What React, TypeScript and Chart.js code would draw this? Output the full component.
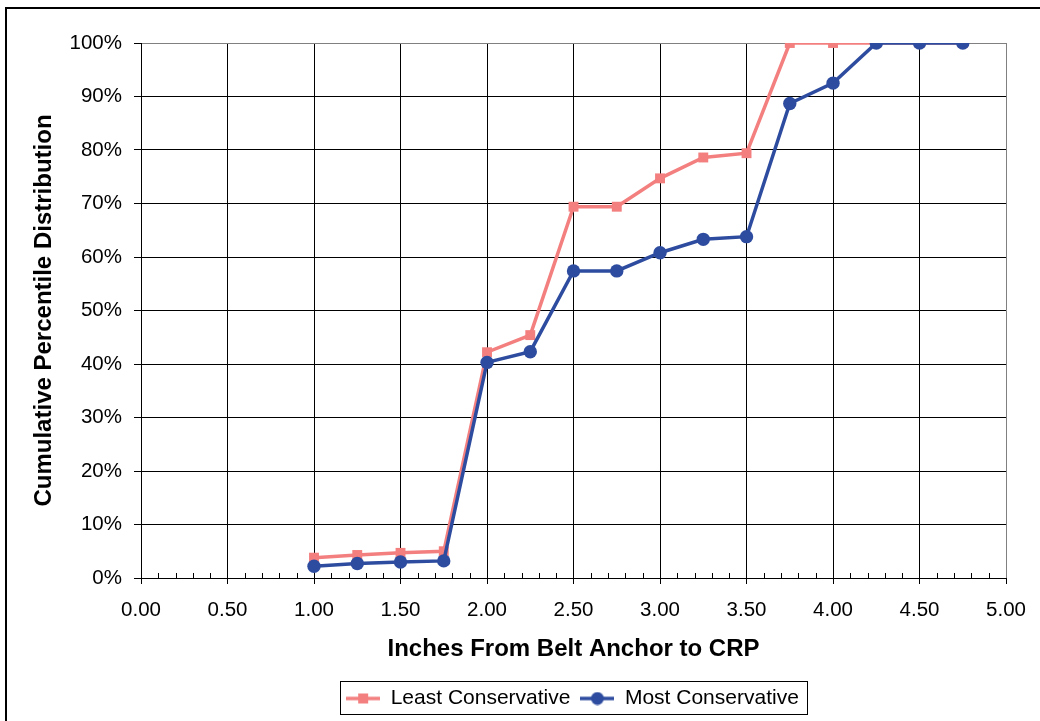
import React, { useEffect, useRef } from "react";
import { Chart, registerables } from "chart.js";

Chart.register(...registerables);

const xValues = [1.0, 1.25, 1.5, 1.75, 2.0, 2.25, 2.5, 2.75, 3.0, 3.25, 3.5, 3.75, 4.0, 4.25, 4.5, 4.75];
const leastConservative = [3.8, 4.3, 4.7, 5.0, 42.2, 45.4, 69.4, 69.4, 74.7, 78.6, 79.4, 100, 100, 100, 100, 100];
const mostConservative = [2.2, 2.7, 3.0, 3.2, 40.3, 42.3, 57.4, 57.4, 60.8, 63.3, 63.8, 88.7, 92.5, 100, 100, 100];
const seriesNames = ["Least Conservative", "Most Conservative"];
const xTitle = "Inches From Belt Anchor to CRP";
const yTitle = "Cumulative Percentile Distribution";

const PINK = "#F37F7F";
const BLUE = "#2E4C9F";
const FONT = "'Liberation Sans', Arial, sans-serif";

function legendIcon(color: string, shape: "rect" | "circle") {
  const c = document.createElement("canvas");
  c.width = 34;
  c.height = 14;
  const ctx = c.getContext("2d")!;
  ctx.strokeStyle = color;
  ctx.lineWidth = 3.5;
  ctx.beginPath();
  ctx.moveTo(0, 7);
  ctx.lineTo(34, 7);
  ctx.stroke();
  ctx.fillStyle = color;
  if (shape === "rect") {
    ctx.fillRect(12, 2, 10, 10);
  } else {
    ctx.beginPath();
    ctx.arc(17, 7, 6.5, 0, Math.PI * 2);
    ctx.fill();
  }
  return c;
}

const LEGEND_SHIFT = 54;

const framePlugin = {
  id: "frame",
  afterLayout(chart: any) {
    const lg = chart.legend;
    if (lg && !lg._shifted) {
      lg.left += LEGEND_SHIFT;
      lg.right += LEGEND_SHIFT;
      if (lg.legendHitBoxes) lg.legendHitBoxes.forEach((h: any) => (h.left += LEGEND_SHIFT));
      lg._shifted = true;
    }
  },
  beforeDraw(chart: any) {
    const ctx = chart.ctx;
    ctx.save();
    ctx.fillStyle = "#fff";
    ctx.fillRect(0, 0, chart.width, chart.height);
    ctx.fillStyle = "#000";
    ctx.fillRect(5, 7, 2, chart.height - 7);
    ctx.fillRect(5, 7, chart.width - 5, 2);
    ctx.restore();
  },
  afterDraw(chart: any) {
    const ctx = chart.ctx;
    const xs = chart.scales.x;
    const bottom = chart.chartArea.bottom;
    ctx.save();
    ctx.strokeStyle = "#000";
    ctx.lineWidth = 1;
    for (let i = 1; i < 50; i++) {
      if (i % 5 === 0) continue;
      const px = Math.round(xs.getPixelForValue(i / 10)) + 0.5;
      ctx.beginPath();
      ctx.moveTo(px, bottom - 5);
      ctx.lineTo(px, bottom);
      ctx.stroke();
    }
    const lg = chart.legend;
    if (lg && lg.legendHitBoxes && lg.legendHitBoxes.length) {
      const hb = lg.legendHitBoxes;
      const left = hb[0].left - 6;
      const right = hb[hb.length - 1].left + hb[hb.length - 1].width + 8;
      const top = hb[0].top - 7;
      const bot = hb[0].top + hb[0].height + 5;
      ctx.strokeStyle = "#000";
      ctx.strokeRect(Math.round(left) + 0.5, Math.round(top) + 0.5, Math.round(right - left), Math.round(bot - top));
    }
    ctx.restore();
  },
};

export default function App() {
  const ref = useRef<HTMLCanvasElement | null>(null);
  useEffect(() => {
    if (!ref.current) return;
    const icons = [legendIcon(PINK, "rect"), legendIcon(BLUE, "circle")];
    const chart = new Chart(ref.current, {
      type: "line",
      data: {
        datasets: [
          {
            label: seriesNames[0],
            data: xValues.map((x, i) => ({ x, y: leastConservative[i] })),
            borderColor: PINK,
            backgroundColor: PINK,
            borderWidth: 3.5,
            pointStyle: "rect",
            pointRadius: 7,
            pointBorderWidth: 0,
            pointBackgroundColor: PINK,
            tension: 0,
            order: 1,
          },
          {
            label: seriesNames[1],
            data: xValues.map((x, i) => ({ x, y: mostConservative[i] })),
            borderColor: BLUE,
            backgroundColor: BLUE,
            borderWidth: 3.5,
            pointStyle: "circle",
            pointRadius: 6.7,
            pointBorderWidth: 0,
            pointBackgroundColor: BLUE,
            tension: 0,
            order: 0,
          },
        ],
      },
      options: {
        animation: false,
        responsive: false,
        maintainAspectRatio: false,
        layout: { padding: { left: 30, right: 33, top: 43, bottom: 2 } },
        plugins: {
          tooltip: { enabled: false },
          legend: {
            position: "bottom",
            labels: {
              usePointStyle: true,
              pointStyleWidth: 34,
              padding: 10,
              color: "#000",
              font: { family: FONT, size: 21 },
              sort: (a: any, b: any) => a.datasetIndex - b.datasetIndex,
              generateLabels: (chart: any) =>
                chart.data.datasets.map((d: any, i: number) => ({
                  text: d.label,
                  datasetIndex: i,
                  pointStyle: icons[i],
                  fillStyle: d.borderColor,
                  strokeStyle: d.borderColor,
                  lineWidth: 0,
                  fontColor: "#000",
                  hidden: false,
                })),
            },
          },
        },
        scales: {
          x: {
            type: "linear",
            min: 0,
            max: 5,
            afterFit: (s: any) => {
              s.height = 100;
            },
            ticks: {
              stepSize: 0.5,
              autoSkip: false,
              maxRotation: 0,
              padding: 14,
              color: "#000",
              font: { family: FONT, size: 20.5 },
              callback: (v: any) => Number(v).toFixed(2),
            },
            grid: {
              color: (c: any) => (c.tick && c.tick.value === 5 ? "#808080" : "#000"),
              lineWidth: 1,
              tickLength: 6,
              tickColor: "#000",
            },
            border: { color: "#000", width: 1 },
            title: {
              display: true,
              text: xTitle,
              color: "#000",
              font: { family: FONT, size: 24, weight: "bold" },
              padding: { top: 14, bottom: 14 },
            },
          },
          y: {
            min: 0,
            max: 100,
            afterFit: (s: any) => {
              s.width = 111;
            },
            ticks: {
              stepSize: 10,
              padding: 12,
              color: "#000",
              font: { family: FONT, size: 20.5 },
              callback: (v: any) => v + "%",
            },
            grid: {
              color: (c: any) => (c.tick && c.tick.value === 100 ? "#808080" : "#000"),
              lineWidth: 1,
              tickLength: 7,
              tickColor: "#000",
            },
            border: { color: "#000", width: 1 },
            title: {
              display: true,
              text: yTitle,
              color: "#000",
              font: { family: FONT, size: 24, weight: "bold" },
              padding: { top: 0, bottom: 0 },
            },
          },
        },
      },
      plugins: [framePlugin],
    } as any);
    return () => chart.destroy();
  }, []);
  return (
    <div style={{ position: "absolute", left: 0, top: 0, width: 1040, height: 721 }}>
      <canvas ref={ref} width={1040} height={721} style={{ display: "block" }} />
    </div>
  );
}
